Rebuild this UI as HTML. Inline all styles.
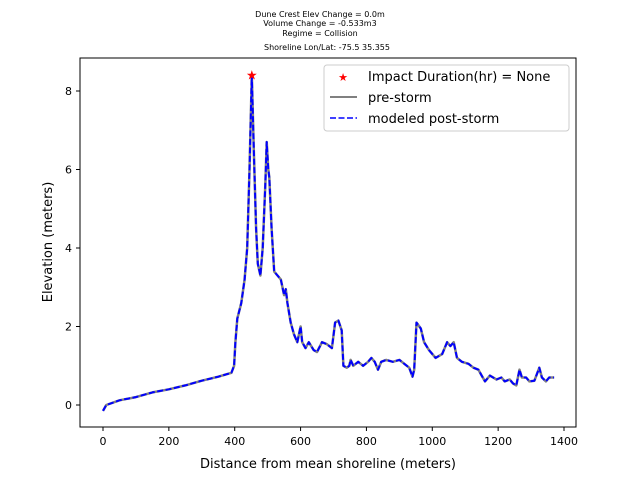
<!DOCTYPE html>
<html><head><meta charset="utf-8"><style>
body{margin:0;background:#fff;font-family:"Liberation Sans","DejaVu Sans",sans-serif}
svg text{font-family:"DejaVu Sans","Liberation Sans",sans-serif}
</style></head><body>
<svg id="chart" width="640" height="480" xmlns="http://www.w3.org/2000/svg">
<rect width="640" height="480" fill="#fff"/>
<g font-size="8" text-anchor="middle" fill="#000">
<text x="320" y="17">Dune Crest Elev Change = 0.0m</text>
<text x="320" y="26">Volume Change = -0.533m3</text>
<text x="320" y="36">Regime = Collision</text>
<text x="327" y="50">Shoreline Lon/Lat: -75.5 35.355</text>
</g>
<g id="xt"></g><g id="yt"></g>
<path id="pre" fill="none" stroke="#808080" stroke-width="2.5" stroke-linejoin="round"/>
<path id="post" fill="none" stroke="#0000ff" stroke-width="2" stroke-dasharray="6,2.5" stroke-linejoin="round"/>
<text id="star" text-anchor="middle" font-size="13" fill="#ff0000">★</text>
<rect x="80" y="58" width="496" height="369" fill="none" stroke="#000" stroke-width="1"/>
<text x="328" y="468" font-size="13" text-anchor="middle">Distance from mean shoreline (meters)</text>
<text transform="translate(52,242) rotate(-90)" font-size="13" text-anchor="middle">Elevation (meters)</text>
<g>
<rect x="324" y="65" width="245" height="66" rx="3" fill="#fff" stroke="#ccc"/>
<text x="343" y="81" font-size="11" fill="#ff0000" text-anchor="middle">★</text>
<text x="368" y="81" font-size="13">Impact Duration(hr) = None</text>
<line x1="330" y1="97" x2="357" y2="97" stroke="#808080" stroke-width="2"/>
<text x="368" y="102" font-size="13">pre-storm</text>
<line x1="330" y1="118" x2="357" y2="118" stroke="#0000ff" stroke-width="1.6" stroke-dasharray="6,2.5"/>
<text x="368" y="123" font-size="13">modeled post-storm</text>
</g>
</svg>
<script>
const dist=[0,10,50,100,150,200,250,300,350,390,398,402,408,420,430,438,445,452,458,465,470,478,485,493,497,502,505,512,520,530,540,550,555,560,570,580,590,600,605,615,625,640,650,665,680,695,705,715,725,730,740,748,752,760,775,790,805,815,825,835,845,860,880,900,915,930,940,945,952,965,975,990,1010,1030,1045,1055,1065,1075,1090,1110,1125,1140,1150,1160,1175,1195,1210,1220,1235,1245,1255,1265,1272,1285,1295,1310,1325,1333,1345,1355,1370];
const preElev=[-0.15,0,0.12,0.2,0.32,0.4,0.5,0.62,0.72,0.82,1.0,1.6,2.2,2.6,3.2,4.0,6.0,8.4,6.5,4.5,3.6,3.3,4.0,5.6,6.7,6.0,5.8,4.5,3.4,3.3,3.2,2.8,2.95,2.6,2.1,1.8,1.6,2.0,1.6,1.45,1.6,1.4,1.35,1.6,1.55,1.45,2.1,2.15,1.9,1.0,0.95,1.0,1.15,1.0,1.1,1.0,1.1,1.2,1.1,0.9,1.1,1.15,1.1,1.15,1.05,0.95,0.72,0.9,2.1,1.95,1.6,1.4,1.2,1.3,1.6,1.5,1.6,1.2,1.1,1.05,0.95,0.9,0.75,0.6,0.75,0.65,0.7,0.6,0.65,0.55,0.5,0.9,0.7,0.7,0.6,0.62,0.95,0.7,0.6,0.7,0.7];
const postElev=preElev.slice();
const xTicks=[0,200,400,600,800,1000,1200,1400];
const yTicks=[0,2,4,6,8];
const impact=[452,8.4];
const X=d=>103+d*461/1400, Y=e=>405-e*39.25;
const ns="http://www.w3.org/2000/svg";
function mk(t,a,p){const e=document.createElementNS(ns,t);for(const k in a)e.setAttribute(k,a[k]);p.appendChild(e);return e;}
const xt=document.getElementById('xt'),yt=document.getElementById('yt');
xTicks.forEach(v=>{const x=X(v);
 const l=mk('line',{x1:x,x2:x,y1:427,y2:431,stroke:'#000'},xt);
 
 
 const t=mk('text',{x:x,y:445,'font-size':11,'text-anchor':'middle'},xt);t.textContent=v;
 
 });
yTicks.forEach(v=>{const y=Y(v);
 const l=mk('line',{x1:76,x2:80,y1:y,y2:y,stroke:'#000'},yt);
 
 
 const t=mk('text',{x:72,y:y+4,'font-size':11,'text-anchor':'end'},yt);t.textContent=v;
 
 });
const path=arr=>dist.map((d,i)=>(i?'L':'M')+X(d).toFixed(1)+','+Y(arr[i]).toFixed(1)).join('');
document.getElementById('pre').setAttribute('d',path(preElev));
document.getElementById('post').setAttribute('d',path(postElev));
const s=document.getElementById('star');s.setAttribute('x',X(impact[0]));s.setAttribute('y',Y(impact[1])+4);
</script>
</body></html>
